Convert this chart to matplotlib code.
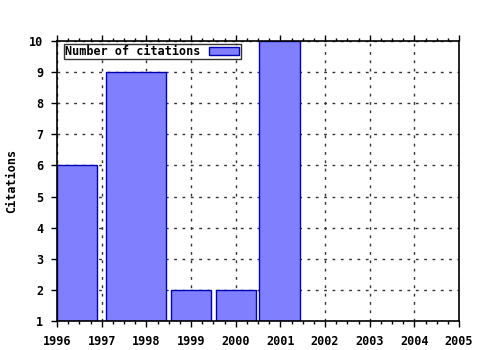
import matplotlib
matplotlib.use("Agg")
import matplotlib.pyplot as plt
from matplotlib.ticker import MultipleLocator

years = [1996, 1997, 1998, 1999, 2000, 2001, 2002, 2003, 2004, 2005]
bar_centers = [1996.45, 1997.77, 1999.0, 2000.0, 2000.98]
bar_widths = [0.9, 1.34, 0.9, 0.9, 0.9]
citations = [6, 9, 2, 2, 10]
yticks = [1, 2, 3, 4, 5, 6, 7, 8, 9, 10]

font = {"family": "DejaVu Sans Mono", "weight": "bold", "size": 8.5}

fig = plt.figure(figsize=(4.8, 3.5), dpi=100)
ax = fig.add_axes([57/480, 1-321/350, (459-57)/480, (321-41)/350])

ax.bar(bar_centers, [c - 1 for c in citations], width=bar_widths, bottom=1,
       color="#8080ff", edgecolor="#0000b0", linewidth=1.0, zorder=3,
       label="Number of citations")

ax.set_xlim(1996, 2005)
ax.set_ylim(1, 10)
ax.set_xticks(years)
ax.set_yticks(yticks)
ax.xaxis.set_minor_locator(MultipleLocator(0.25))
ax.set_xticklabels([str(y) for y in years], fontdict=font)
ax.set_yticklabels([str(y) for y in yticks], fontdict=font)
ax.tick_params(axis="x", which="major", direction="out", length=4, width=1,
               top=True, pad=6, colors="black")
ax.tick_params(axis="y", which="major", direction="out", length=4, width=1,
               right=False, pad=6, colors="black")
ax.tick_params(axis="x", which="minor", direction="out", length=2, width=1,
               top=True)
ax.grid(True, which="major", linestyle=(0, (2, 4)), color="#333333",
        linewidth=1.0, zorder=1)
for s in ax.spines.values():
    s.set_linewidth(1.2)
    s.set_zorder(5)

ax.set_ylabel("Citations", fontdict=font)
ax.yaxis.set_label_coords(-0.097, 0.5)

leg = ax.legend(loc="upper left", bbox_to_anchor=(0.017, 0.99),
                markerfirst=False, prop=dict(family="DejaVu Sans Mono",
                                             weight="bold", size=8.5),
                frameon=True, fancybox=False, borderpad=0.1,
                handlelength=2.6, handleheight=0.6, handletextpad=0.7,
                borderaxespad=0)
leg.get_frame().set_edgecolor("black")
leg.get_frame().set_linewidth(1.0)

fig.savefig("out.png", dpi=100)
